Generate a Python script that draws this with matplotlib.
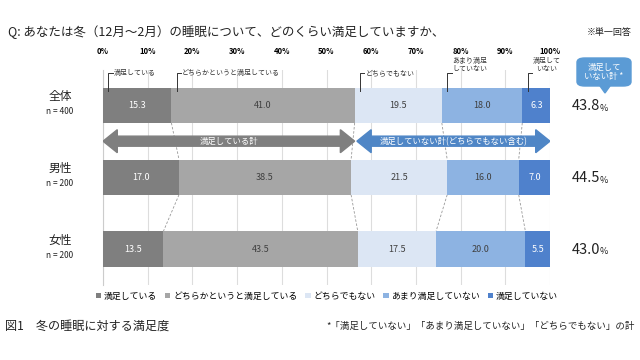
import numpy as np
import matplotlib.pyplot as plt
from matplotlib.patches import Polygon, FancyBboxPatch

plt.rcParams['font.family'] = ['Noto Sans CJK JP', 'DejaVu Sans']

# data
groups = ['全体', '男性', '女性']
group_n = ['n = 400', 'n = 200', 'n = 200']
answers = ['満足している', 'どちらかというと満足している', 'どちらでもない',
           'あまり満足していない', '満足していない']
answer_notes = ['満足している', 'どちらかというと満足している', 'どちらでもない',
                'あまり満足\nしていない', '満足して\nいない']
shares = np.array([
    [15.3, 41.0, 19.5, 18.0, 6.3],
    [17.0, 38.5, 21.5, 16.0, 7.0],
    [13.5, 43.5, 17.5, 20.0, 5.5],
])
not_satisfied = [43.8, 44.5, 43.0]
xticks = np.arange(0, 101, 10)

colors = ['#7f7f7f', '#a6a6a6', '#dce6f4', '#8db3e2', '#4f81cc']
text_colors = ['white', '#404040', '#404040', '#404040', 'white']

fig = plt.figure(figsize=(6.4, 3.6), dpi=100)
W, H = 640, 360
ax = fig.add_axes([103 / W, 1 - 285 / H, 447 / W, 215 / H])

ypos = np.arange(len(groups))
bar_h = 0.49
cum = np.cumsum(shares, axis=1) - shares

for j in range(len(answers)):
    ax.barh(ypos, shares[:, j], left=cum[:, j], height=bar_h,
            color=colors[j], label=answers[j], zorder=3)
    for i in range(len(groups)):
        ax.text(cum[i, j] + shares[i, j] / 2, ypos[i], f'{shares[i, j]:.1f}',
                ha='center', va='center', fontsize=6.5,
                color=text_colors[j], zorder=4)

# dashed connectors between neighbouring bars
for i in range(len(groups) - 1):
    for j in range(1, len(answers)):
        ax.plot([cum[i, j], cum[i + 1, j]],
                [ypos[i] + bar_h / 2, ypos[i + 1] - bar_h / 2],
                ls=(0, (3, 2)), lw=0.6, color='#999999', zorder=2)

ax.set_xlim(0, 100)
ax.set_ylim(2.5, -0.49)
ax.set_xticks(xticks)
ax.xaxis.grid(True, color='#dddddd', lw=0.8, zorder=0)
ax.set_yticks([])
ax.tick_params(axis='x', length=0, labelsize=5.5, labeltop=True,
               labelbottom=False, pad=10)
ax.set_xticklabels([f'{t}%' for t in xticks], fontweight='bold')
for s in ax.spines.values():
    s.set_visible(False)
ax.spines['left'].set_visible(True)
ax.spines['left'].set_color('#cccccc')

# bracket labels above the first bar
for j, note in enumerate(answer_notes):
    x0 = cum[0, j] + 1.2
    y_top = ypos[0] - bar_h / 2
    ax.plot([x0, x0, x0 + 1.0], [y_top + 0.05, y_top - 0.2, y_top - 0.2],
            color='#333333', lw=0.7, clip_on=False, zorder=4)
    ax.text(x0 + 1.2, y_top - 0.2, note, ha='left',
            va='center' if '\n' not in note else 'bottom',
            fontsize=5, color='#333333', linespacing=1.1,
            multialignment='center')


def double_arrow(x0, x1, y, color, label):
    body, head, hl = 0.07, 0.16, 3.2
    pts = [(x0, y), (x0 + hl, y - head), (x0 + hl, y - body),
           (x1 - hl, y - body), (x1 - hl, y - head), (x1, y),
           (x1 - hl, y + head), (x1 - hl, y + body), (x0 + hl, y + body),
           (x0 + hl, y + head)]
    ax.add_patch(Polygon(pts, closed=True, color=color, zorder=3))
    ax.text((x0 + x1) / 2, y, label, ha='center', va='center',
            fontsize=6, color='white', zorder=4)


sat_total = shares[0, 0] + shares[0, 1]
double_arrow(0, sat_total, 0.5, '#7f7f7f', '満足している計')
double_arrow(sat_total + 0.5, 100, 0.5, '#4f86c6',
             '満足していない計(どちらでもない含む)')

# group labels
for i in range(len(groups)):
    yy = ax.transData.transform((0, ypos[i]))[1] / H
    fig.text(60 / W, yy + 0.025, groups[i], ha='center', va='center',
             fontsize=8.5, color='#222222')
    fig.text(60 / W, yy - 0.017, group_n[i], ha='center', va='center',
             fontsize=6, color='#222222')
    fig.text(600 / W, yy - 0.003, f'{not_satisfied[i]:.1f}', ha='right',
             va='center', fontsize=10.5, color='#222222')
    fig.text(600 / W, yy - 0.008, '%', ha='left', va='center',
             fontsize=6.5, color='#222222')

# callout box
fig.patches.append(FancyBboxPatch((577 / W, 1 - 86 / H), 54 / W, 28 / H,
                                  boxstyle='round,pad=0,rounding_size=0.012',
                                  transform=fig.transFigure,
                                  color='#5b9bd5', zorder=2))
fig.patches.append(Polygon([(600 / W, 1 - 86 / H), (610 / W, 1 - 86 / H),
                            (605 / W, 1 - 93 / H)], closed=True,
                           transform=fig.transFigure, color='#5b9bd5'))
fig.text(604 / W, 1 - 72 / H, '満足して\nいない計 *', ha='center', va='center',
         fontsize=6, color='white', linespacing=1.1, zorder=3)

# titles and notes
fig.text(8 / W, 1 - 32 / H, 'Q: あなたは冬（12月～2月）の睡眠について、どのくらい満足していますか、',
         ha='left', va='center', fontsize=9, color='#222222')
fig.text(632 / W, 1 - 32 / H, '※単一回答', ha='right', va='center',
         fontsize=6.5, color='#222222')
fig.text(5 / W, 1 - 326 / H, '図1　冬の睡眠に対する満足度', ha='left',
         va='center', fontsize=8.7, color='#222222')
fig.text(635 / W, 1 - 326 / H,
         '*「満足していない」「あまり満足していない」「どちらでもない」の計',
         ha='right', va='center', fontsize=6.8, color='#222222')

fig.legend(loc='center', bbox_to_anchor=(327 / W, 1 - 296 / H), ncol=5,
           frameon=False, fontsize=6.4, handlelength=0.6, handleheight=0.6,
           handletextpad=0.3, columnspacing=0.9)

fig.savefig('out.png', dpi=100)
